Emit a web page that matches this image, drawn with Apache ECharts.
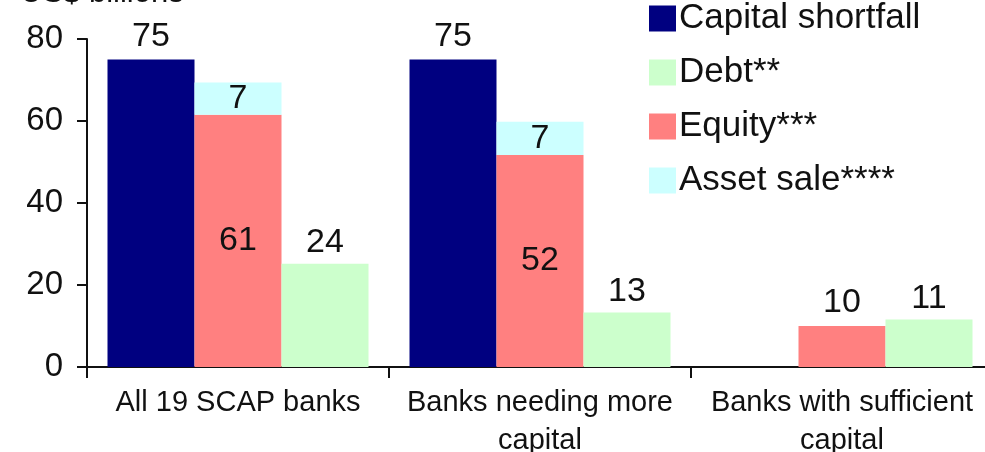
<!DOCTYPE html>
<html>
<head>
<meta charset="utf-8">
<script src="https://cdn.jsdelivr.net/npm/echarts@6/dist/echarts.min.js"></script>
<style>
  html, body { margin: 0; padding: 0; background: #fff; }
  #chart { width: 985px; height: 452px; }
</style>
</head>
<body>
<div id="chart"></div>
<script>
var categories = ["All 19 SCAP banks", "Banks needing more\ncapital", "Banks with sufficient\ncapital"];
var shortfall = [75, 75, null];
var equity = [61.5, 51.7, 10.0];
var assetSale = [7.9, 8.1, null];
var debt = [25.2, 13.3, 11.6];
var shortfallLabels = ["75", "75", ""];
var equityLabels = ["61", "52", "10"];
var assetSaleLabels = ["7", "7", ""];
var debtLabels = ["24", "13", "11"];

var font = "'Liberation Sans', Arial, sans-serif";
var chart = echarts.init(document.getElementById("chart"));

function labelFrom(arr) {
  return function (p) { return arr[p.dataIndex]; };
}

var option = {
  animation: false,
  textStyle: { fontFamily: font, color: "#111" },
  graphic: [
    {
      type: "text",
      x: 20,
      y: -7,
      style: {
        text: "US$ billions",
        font: "31px " + font,
        fill: "#111",
        verticalAlign: "middle"
      }
    }
  ],
  legend: {
    orient: "vertical",
    left: 644,
    top: -4,
    itemWidth: 27,
    itemHeight: 26,
    itemGap: 19,
    icon: "rect",
    data: ["Capital shortfall", "Debt**", "Equity***", "Asset sale****"],
    textStyle: { fontSize: 35, color: "#111", fontFamily: font, padding: [0, 0, 0, -2] }
  },
  grid: {
    left: 87,
    right: -8,
    top: 39,
    bottom: 85,
    outerBoundsMode: "none"
  },
  xAxis: {
    type: "category",
    data: categories,
    axisLine: { lineStyle: { color: "#111", width: 2 } },
    axisTick: { show: true, length: 11, lineStyle: { color: "#111", width: 2 } },
    axisLabel: {
      fontSize: 29,
      color: "#111",
      margin: 17,
      lineHeight: 38,
      interval: 0,
      fontFamily: font
    }
  },
  yAxis: {
    type: "value",
    min: 0,
    max: 80,
    interval: 20,
    splitLine: { show: false },
    axisLine: { show: true, lineStyle: { color: "#111", width: 2 } },
    axisTick: { show: true, length: 10, lineStyle: { color: "#111", width: 2 } },
    axisLabel: { fontSize: 33, color: "#111", margin: 24, fontFamily: font }
  },
  series: [
    {
      name: "Capital shortfall",
      type: "bar",
      barWidth: 87,
      barGap: "0%",
      data: shortfall,
      itemStyle: { color: "#000080" },
      label: {
        show: true,
        position: "top",
        distance: 6,
        fontSize: 34,
        color: "#111",
        formatter: labelFrom(shortfallLabels)
      }
    },
    {
      name: "Equity***",
      type: "bar",
      stack: "mid",
      barWidth: 87,
      barGap: "0%",
      data: equity.map(function (v, i) {
        return { value: v, label: { position: i === 2 ? "top" : "inside" } };
      }),
      itemStyle: { color: "#FF8080" },
      label: {
        show: true,
        distance: 6,
        fontSize: 34,
        color: "#111",
        formatter: labelFrom(equityLabels)
      }
    },
    {
      name: "Asset sale****",
      type: "bar",
      stack: "mid",
      barWidth: 87,
      barGap: "0%",
      data: assetSale,
      itemStyle: { color: "#CCFFFF" },
      label: {
        show: true,
        position: "inside",
        fontSize: 34,
        color: "#111",
        formatter: labelFrom(assetSaleLabels)
      }
    },
    {
      name: "Debt**",
      type: "bar",
      barWidth: 87,
      barGap: "0%",
      data: debt,
      itemStyle: { color: "#CCFFCC" },
      label: {
        show: true,
        position: "top",
        distance: 4,
        fontSize: 34,
        color: "#111",
        formatter: labelFrom(debtLabels)
      }
    }
  ]
};

chart.setOption(option);
</script>
</body>
</html>
